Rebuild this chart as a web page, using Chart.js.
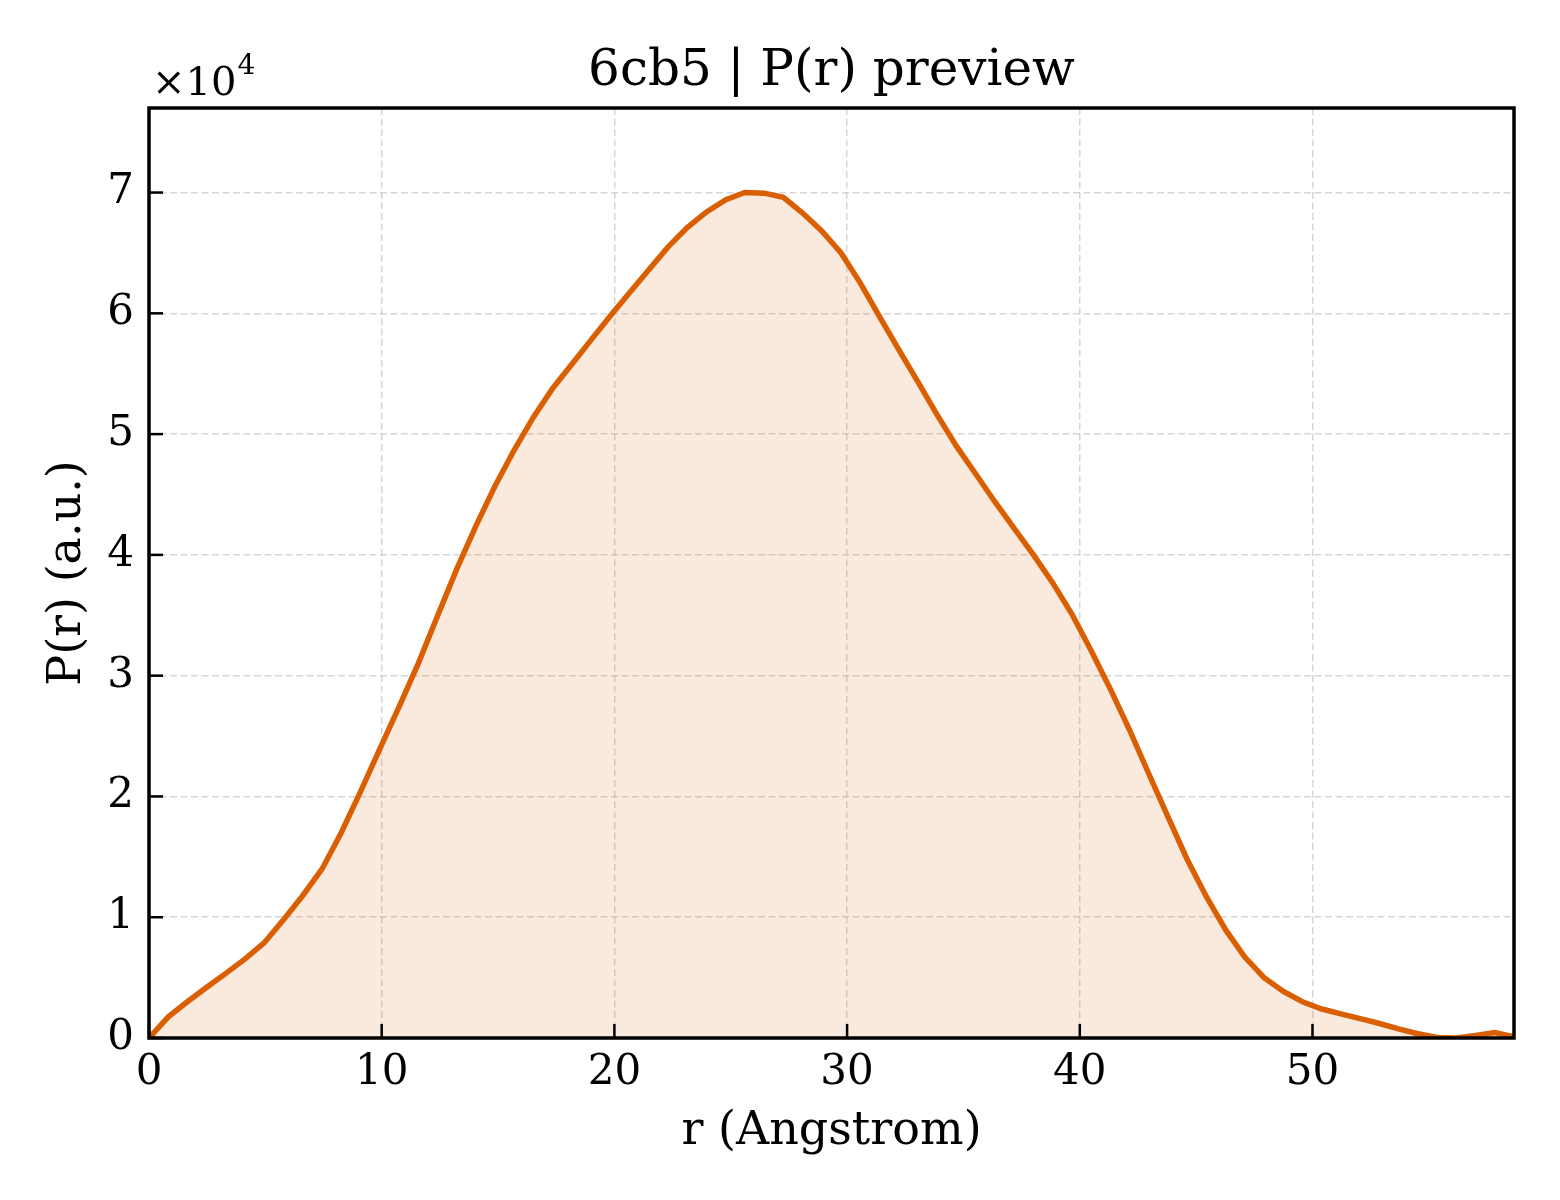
<!DOCTYPE html>
<html>
<head>
<meta charset="utf-8">
<script src="https://cdn.jsdelivr.net/npm/chart.js@4/dist/chart.umd.min.js"></script>
<style>
  html, body { margin: 0; padding: 0; background: #fff; }
  canvas { display: block; }
</style>
</head>
<body>
<canvas id="myChart" width="1560" height="1200"></canvas>
<script>
// r grid (Angstrom) and P(r) values
const rValues = [
  0, 0.83, 1.65, 2.48, 3.30, 4.13, 4.96, 5.78, 6.61, 7.44,
  8.26, 9.09, 9.91, 10.74, 11.57, 12.39, 13.22, 14.05, 14.87, 15.70,
  16.52, 17.35, 18.18, 19.00, 19.83, 20.65, 21.48, 22.31, 23.13, 23.96,
  24.79, 25.61, 26.44, 27.26, 28.09, 28.92, 29.74, 30.57, 31.40, 32.22,
  33.05, 33.87, 34.70, 35.53, 36.35, 37.18, 38.01, 38.83, 39.66, 40.48,
  41.31, 42.14, 42.96, 43.79, 44.61, 45.44, 46.27, 47.09, 47.92, 48.75,
  49.57, 50.40, 51.22, 52.05, 52.88, 53.70, 54.53, 55.36, 56.18, 57.01,
  57.83, 58.66
];
const prValues = [
  0, 1750, 3000, 4200, 5350, 6550, 7900, 9800, 11800, 14000,
  17000, 20400, 23900, 27400, 31000, 34900, 38800, 42400, 45700, 48700,
  51400, 53800, 55800, 57800, 59800, 61700, 63600, 65500, 67100, 68400,
  69400, 70000, 69950, 69600, 68300, 66800, 65000, 62500, 59700, 57000,
  54300, 51600, 49000, 46700, 44400, 42200, 40000, 37700, 35100, 32100,
  28900, 25500, 21900, 18300, 14800, 11700, 8950, 6700, 5000, 3850,
  3000, 2400, 2000, 1600, 1200, 750, 350, 50, 0, 200,
  450, 100
];
const xTicks = [0, 10, 20, 30, 40, 50];
const yTicks = [0, 1, 2, 3, 4, 5, 6, 7];   // x 10^4

const titleText = '6cb5 | P(r) preview';
const xLabel = 'r (Angstrom)';
const yLabel = 'P(r) (a.u.)';
const lineColor = 'rgb(217, 95, 2)';
const fillColor = 'rgba(217, 95, 2, 0.13)';
const fontFamily = "'DejaVu Serif', serif";

// title over the plot area, frame, inward ticks on left and bottom, offset text
const framePlugin = {
  id: 'frame',
  afterDatasetsDraw(chart) {
    const ctx = chart.ctx;
    const a = chart.chartArea;
    const xs = chart.scales.x;
    const ys = chart.scales.y;
    ctx.save();
    ctx.strokeStyle = '#000';
    ctx.lineWidth = 2.5;
    xs.ticks.forEach(t => {
      const px = xs.getPixelForValue(t.value);
      ctx.beginPath();
      ctx.moveTo(px, a.bottom);
      ctx.lineTo(px, a.bottom - 14);
      ctx.stroke();
    });
    ys.ticks.forEach(t => {
      const py = ys.getPixelForValue(t.value);
      ctx.beginPath();
      ctx.moveTo(a.left, py);
      ctx.lineTo(a.left + 14, py);
      ctx.stroke();
    });
    ctx.lineWidth = 3.5;
    ctx.strokeRect(a.left, a.top, a.right - a.left, a.bottom - a.top);

    ctx.fillStyle = '#000';
    ctx.textBaseline = 'alphabetic';

    // title
    ctx.textAlign = 'center';
    ctx.font = '50px ' + fontFamily;
    ctx.fillText(titleText, (a.left + a.right) / 2, a.top - 23);

    // offset text x10^4
    ctx.textAlign = 'left';
    ctx.font = '40px ' + fontFamily;
    const base = '\u00d710';
    ctx.fillText(base, a.left + 3, a.top - 13);
    const w = ctx.measureText(base).width;
    ctx.font = '28px ' + fontFamily;
    ctx.fillText('4', a.left + 3 + w + 1, a.top - 34);
    ctx.restore();
  }
};

const data = {
  labels: rValues,
  datasets: [{
    label: 'P(r)',
    data: rValues.map((r, i) => ({ x: r, y: prValues[i] })),
    borderColor: lineColor,
    backgroundColor: fillColor,
    borderWidth: 5.5,
    pointRadius: 0,
    tension: 0,
    fill: 'origin'
  }]
};

const config = {
  type: 'line',
  data: data,
  options: {
    responsive: false,
    animation: false,
    devicePixelRatio: 1,
    layout: { padding: { left: 0, right: 46, top: 108, bottom: 0 } },
    plugins: {
      legend: { display: false },
      tooltip: { enabled: false },
      title: { display: false }
    },
    scales: {
      x: {
        type: 'linear',
        min: 0,
        max: 58.66,
        afterFit: s => { s.height = 162; },
        afterBuildTicks: s => { s.ticks = xTicks.map(v => ({ value: v })); },
        ticks: {
          color: '#000',
          font: { family: fontFamily, size: 42 },
          padding: 10,
          maxRotation: 0,
          callback: v => String(v)
        },
        grid: { color: 'rgba(200,200,200,0.75)', lineWidth: 1.5, drawTicks: false },
        border: { display: false, dash: [7, 3.5] },
        title: {
          display: true,
          text: xLabel,
          color: '#000',
          font: { family: fontFamily, size: 46 },
          padding: { top: 0, bottom: 40 }
        }
      },
      y: {
        type: 'linear',
        min: 0,
        max: 77000,
        afterFit: s => { s.width = 149; },
        afterBuildTicks: s => { s.ticks = yTicks.map(v => ({ value: v * 10000 })); },
        ticks: {
          color: '#000',
          font: { family: fontFamily, size: 42 },
          padding: 15,
          callback: v => String(Math.round(v / 10000))
        },
        grid: { color: 'rgba(200,200,200,0.75)', lineWidth: 1.5, drawTicks: false },
        border: { display: false, dash: [7, 3.5] },
        title: {
          display: true,
          text: yLabel,
          color: '#000',
          font: { family: fontFamily, size: 46 },
          padding: { top: 40, bottom: 0 }
        }
      }
    }
  },
  plugins: [framePlugin]
};

const myChart = new Chart(document.getElementById('myChart'), config);
</script>
</body>
</html>
